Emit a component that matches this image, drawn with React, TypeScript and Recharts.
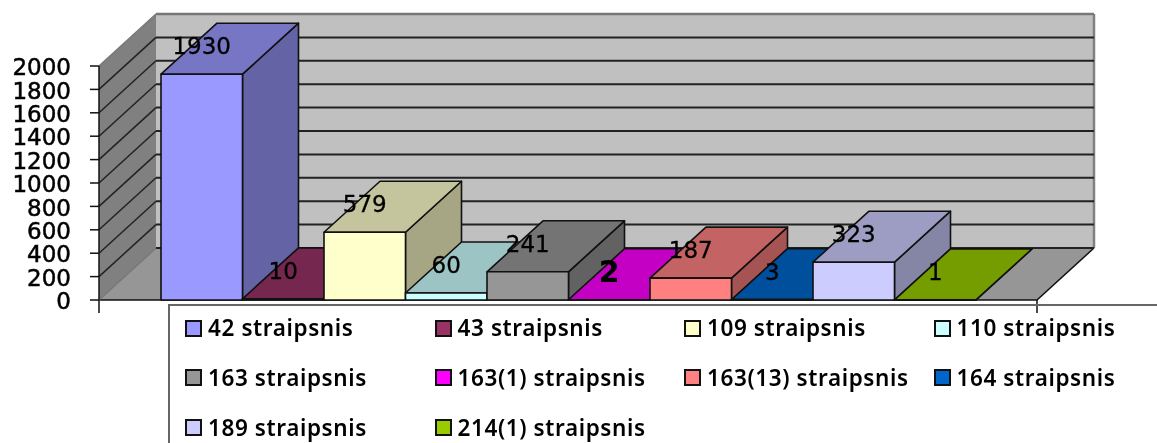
import {
  Bar,
  BarChart,
  CartesianGrid,
  LabelList,
  Legend,
  XAxis,
  YAxis,
} from "recharts";

const seriesNames = [
  "42 straipsnis",
  "43 straipsnis",
  "109 straipsnis",
  "110 straipsnis",
  "163 straipsnis",
  "163(1) straipsnis",
  "163(13) straipsnis",
  "164 straipsnis",
  "189 straipsnis",
  "214(1) straipsnis",
];
const seriesValues = [1930, 10, 579, 60, 241, 2, 187, 3, 323, 1];
const seriesColors = [
  "#9999ff",
  "#993366",
  "#ffffcc",
  "#ccffff",
  "#969696",
  "#ff00ff",
  "#ff8080",
  "#0066cc",
  "#ccccff",
  "#99cc00",
];
const yTicks = [0, 200, 400, 600, 800, 1000, 1200, 1400, 1600, 1800, 2000];

const W = 1157;
const H = 443;
const LEFT = 99;
const RIGHT = 1037;
const TOP = 66;
const BOTTOM = 300;
const DX = 57;
const DY = 52;

const row: Record<string, string | number> = { name: "" };
seriesValues.forEach((v, i) => {
  row["s" + i] = v;
});
const data = [row];

// darker shade for the top and side of a box
const shade = (hex: string, k: number) => {
  const n = parseInt(hex.slice(1), 16);
  const c = [(n >> 16) & 255, (n >> 8) & 255, n & 255].map((v) =>
    Math.round(v * k)
  );
  return `rgb(${c[0]},${c[1]},${c[2]})`;
};

const Box3D = (props: any) => {
  const { x, y, width, height, fill } = props;
  const dx = 56;
  const dy = 51;
  const r = x + width;
  const b = y + height;
  const line = { stroke: "#111", strokeWidth: 1.6, strokeLinejoin: "round" as const };
  return (
    <g>
      <polygon
        points={`${r},${y} ${r + dx},${y - dy} ${r + dx},${b - dy} ${r},${b}`}
        fill={shade(fill, 0.65)}
        {...line}
      />
      <polygon
        points={`${x},${y} ${x + dx},${y - dy} ${r + dx},${y - dy} ${r},${y}`}
        fill={shade(fill, 0.77)}
        {...line}
      />
      <rect x={x} y={y} width={width} height={height} fill={fill} {...line} />
    </g>
  );
};

const BarLabel = (props: any) => {
  const { x, y, width, value } = props;
  const big = value === 2;
  return (
    <text
      x={x + width / 2}
      y={y - 28}
      textAnchor="middle"
      dominantBaseline="central"
      fontFamily="DejaVu Sans"
      fontSize={big ? 30 : 23}
      fontWeight={big ? 700 : 400}
      fill="#000"
      stroke="#000"
      strokeWidth={big ? 0 : 0.3}
    >
      {value}
    </text>
  );
};

// grid lines run along the side wall and then along the back wall
const gridLine = (props: any) => {
  const { x1, x2, y1, key } = props;
  const edge = y1 <= TOP + 1 || y1 >= BOTTOM - 1;
  const isTop = y1 <= TOP + 1;
  return (
    <g key={key}>
      <line
        x1={x1}
        y1={y1}
        x2={x1 + DX}
        y2={y1 - DY}
        stroke={edge ? "#777" : "#222"}
        strokeWidth={1.5}
      />
      <line
        x1={x1 + DX}
        y1={y1 - DY}
        x2={x2 + DX}
        y2={y1 - DY}
        stroke={isTop ? "#777" : "#222"}
        strokeWidth={isTop ? 2.5 : 2}
      />
    </g>
  );
};

const LegendBox = (props: any) => {
  const items = props.payload || [];
  return (
    <div
      style={{
        position: "absolute",
        left: 0,
        top: 0,
        width: W - 168,
        height: H - 304,
        boxSizing: "border-box",
        borderTop: "2px solid #666",
        borderLeft: "2px solid #666",
      }}
    >
      {items.map((item: any, i: number) => (
        <div
          key={item.value}
          style={{
            position: "absolute",
            left: 15 + (i % 4) * 249.5,
            top: 8 + Math.floor(i / 4) * 49.8,
            display: "flex",
            alignItems: "center",
            height: 28,
            lineHeight: "28px",
            whiteSpace: "nowrap",
            fontFamily: "Noto Sans",
            fontWeight: 600,
            fontSize: 22.5,
            letterSpacing: 0.6,
            color: "#000",
          }}
        >
          <span
            style={{
              width: 13,
              height: 13,
              background: item.color,
              border: "2px solid #111",
              marginRight: 6,
              display: "inline-block",
            }}
          />
          {item.value}
        </div>
      ))}
    </div>
  );
};

const Walls = () => (
  <svg
    width={W}
    height={H}
    style={{ position: "absolute", left: 0, top: 0 }}
  >
    <rect
      x={LEFT + DX}
      y={TOP - DY}
      width={RIGHT - LEFT}
      height={BOTTOM - TOP}
      fill="#c0c0c0"
    />
    <line
      x1={RIGHT + DX}
      y1={TOP - DY}
      x2={RIGHT + DX}
      y2={BOTTOM - DY}
      stroke="#808080"
      strokeWidth={2.5}
    />
    <polygon
      points={`${LEFT},${TOP} ${LEFT + DX},${TOP - DY} ${LEFT + DX},${BOTTOM - DY} ${LEFT},${BOTTOM}`}
      fill="#808080"
    />
    <polygon
      points={`${LEFT},${BOTTOM} ${LEFT + DX},${BOTTOM - DY} ${RIGHT + DX},${BOTTOM - DY} ${RIGHT},${BOTTOM}`}
      fill="#969696"
    />
    <path
      d={`M${LEFT} ${BOTTOM}H${RIGHT}L${RIGHT + DX} ${BOTTOM - DY}`}
      fill="none"
      stroke="#111"
      strokeWidth={1.5}
    />
    <path
      d={`M${LEFT} ${BOTTOM}V${BOTTOM + 13}M${RIGHT} ${BOTTOM}V${BOTTOM + 13}`}
      stroke="#111"
      strokeWidth={1.5}
    />
  </svg>
);

const App = () => {
  return (
    <div
      style={{
        position: "absolute",
        left: 0,
        top: 0,
        width: W,
        height: H,
        overflow: "hidden",
        filter: "blur(0.4px)",
      }}
    >
      <Walls />
      <div style={{ position: "absolute", left: 0, top: 0 }}>
        <BarChart
          width={W}
          height={H}
          data={data}
          margin={{ top: TOP, right: W - RIGHT, bottom: H - BOTTOM, left: 0 }}
          barSize={81.5}
          barGap={0}
        >
          <CartesianGrid vertical={false} horizontal={gridLine} />
          <XAxis dataKey="name" hide />
          <YAxis
            width={LEFT}
            domain={[0, 2000]}
            ticks={yTicks}
            interval={0}
            tickSize={9}
            tickMargin={19}
            axisLine={{ stroke: "#111", strokeWidth: 1.5 }}
            tickLine={{ stroke: "#111", strokeWidth: 1.5 }}
            tick={{
              fontFamily: "DejaVu Sans",
              fontSize: 23,
              fill: "#000",
              stroke: "#000",
              strokeWidth: 0.5,
              dy: 1,
            }}
          />
          <Legend
            layout="horizontal"
            verticalAlign="middle"
            content={LegendBox}
            itemSorter={null}
            wrapperStyle={{
              left: 168,
              top: 304,
              width: W - 168,
              height: H - 304,
            }}
          />
          {seriesNames.map((name, i) => (
            <Bar
              key={name}
              dataKey={"s" + i}
              name={name}
              fill={seriesColors[i]}
              shape={Box3D}
              isAnimationActive={false}
            >
              <LabelList dataKey={"s" + i} content={BarLabel} />
            </Bar>
          ))}
        </BarChart>
      </div>
    </div>
  );
};

export default App;
